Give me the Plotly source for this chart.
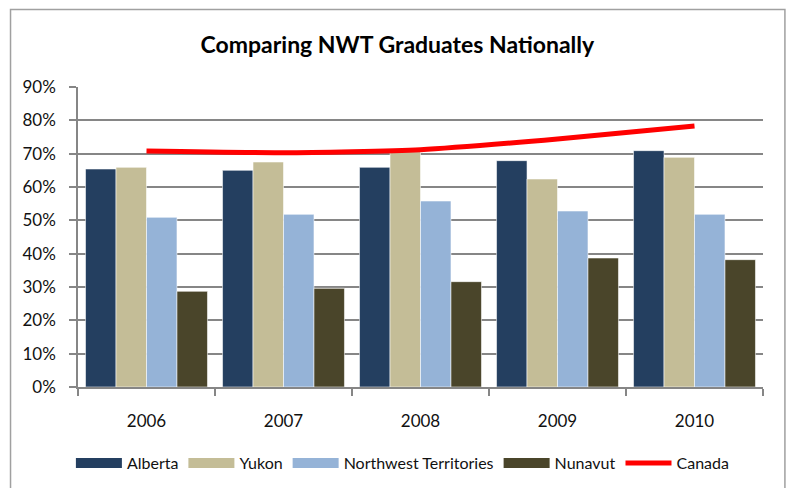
import plotly.graph_objects as go

years = ["2006", "2007", "2008", "2009", "2010"]
alberta = [0.654, 0.650, 0.659, 0.679, 0.709]
yukon = [0.659, 0.675, 0.706, 0.624, 0.689]
nwt = [0.509, 0.518, 0.558, 0.528, 0.518]
nunavut = [0.287, 0.296, 0.316, 0.387, 0.382]
canada = [0.708, 0.703, 0.712, 0.744, 0.783]

series = [
    ("Alberta", alberta, "#243F60"),
    ("Yukon", yukon, "#C4BD97"),
    ("Northwest Territories", nwt, "#95B3D7"),
    ("Nunavut", nunavut, "#4A452A"),
]

FONT = "Lato, 'Open Sans', sans-serif"

fig = go.Figure()
for name, vals, col in series:
    fig.add_trace(go.Bar(
        x=years, y=vals, name=name, marker_color=col,
        marker_line=dict(color="rgba(255,255,255,0.55)", width=1),
        showlegend=False, legendgroup=name,
    ))
    # legend swatch (wide rectangle like the original)
    fig.add_trace(go.Scatter(
        x=[None], y=[None], mode="lines", name=name, legendgroup=name,
        line=dict(color=col, width=13),
    ))

fig.add_trace(go.Scatter(
    x=years, y=canada, name="Canada", mode="lines",
    line=dict(color="#FF0000", width=5, shape="spline", smoothing=0.6),
))

fig.update_layout(
    width=790, height=488,
    margin=dict(l=78, r=27, t=87, b=101),
    paper_bgcolor="white", plot_bgcolor="white",
    barmode="group", bargap=0.11, bargroupgap=0,
    font=dict(family=FONT, color="#111111", size=17),
    title=dict(text="<b>Comparing NWT Graduates Nationally</b>",
               x=0.503, xanchor="center", y=1 - 45 / 488, yanchor="middle",
               font=dict(family=FONT, size=23, color="#000000")),
    legend=dict(orientation="h", xref="container", yref="container",
                x=0.51, xanchor="center", y=1 - 463 / 488, yanchor="middle",
                font=dict(size=16, family=FONT), itemwidth=46,
                traceorder="normal"),
    xaxis=dict(type="category", showgrid=False, showline=True,
               linecolor="#868686", linewidth=1.5,
               ticks="outside", tickson="boundaries", ticklen=7,
               tickcolor="#868686", tickwidth=1.5,
               ticklabelstandoff=18, tickfont=dict(size=17)),
    yaxis=dict(range=[0, 0.9], dtick=0.1, tickformat=".0%",
               showgrid=True, gridcolor="#868686", gridwidth=1.5,
               showline=True, linecolor="#868686", linewidth=1.5,
               ticks="outside", ticklen=7, tickcolor="#868686", tickwidth=1.5,
               ticklabelstandoff=10, tickfont=dict(size=17), zeroline=False),
    shapes=[dict(type="rect", xref="paper", yref="paper",
                 x0=-0.0985, x1=1.032, y0=-0.36, y1=1.258,
                 line=dict(color="#A0A0A0", width=1.5), layer="below")],
)

fig.write_html("out.html", config={"displayModeBar": False},
               post_script="document.body.style.margin='0';document.body.style.padding='0';")
